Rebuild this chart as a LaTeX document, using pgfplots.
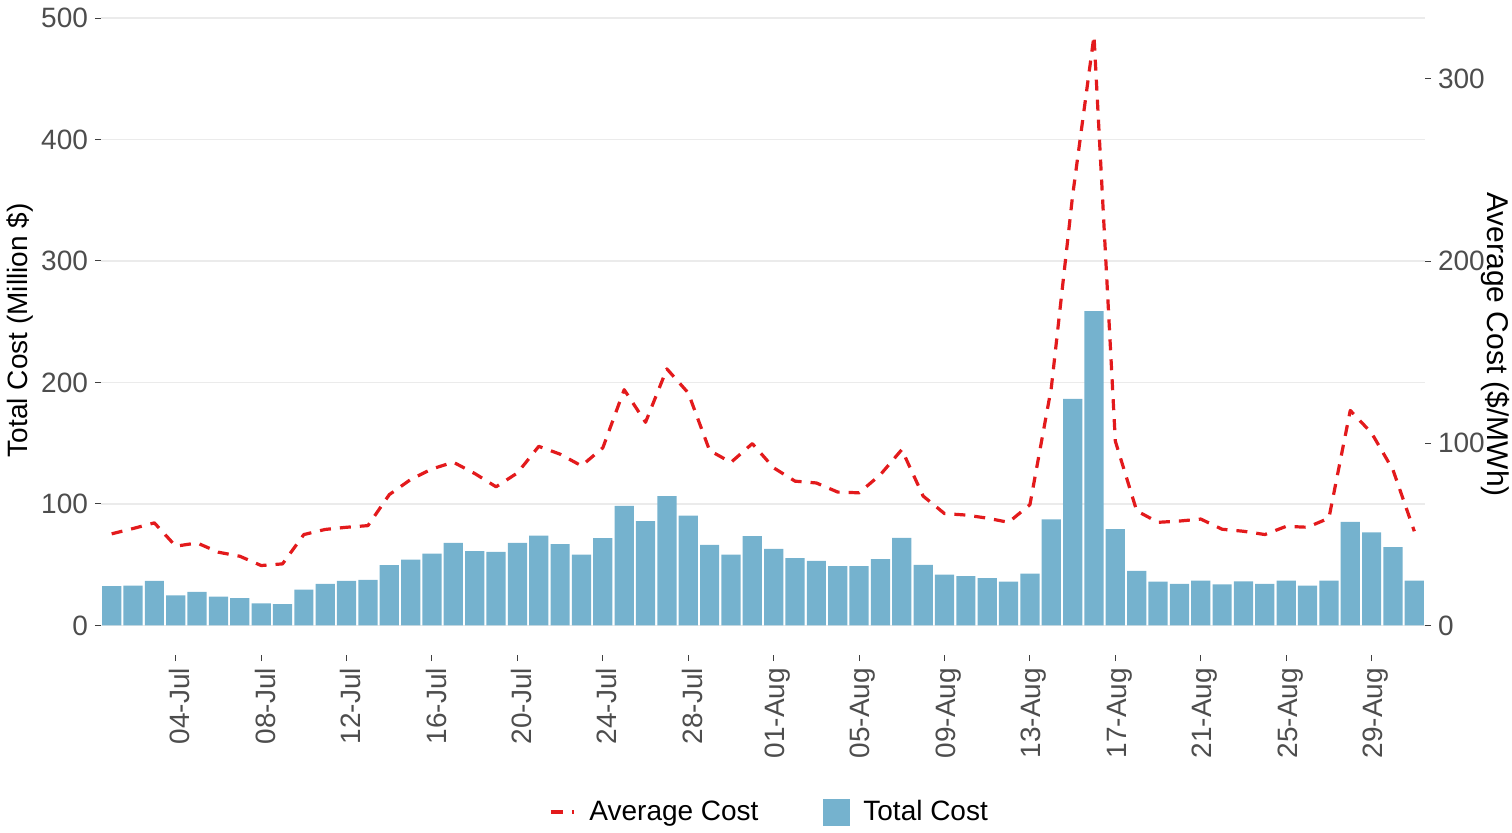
\documentclass[border=0pt]{standalone}
\usepackage{pgfplots}
\pgfplotsset{compat=1.18}
\usepackage{pgfplotstable}
\usepackage{fontspec}
\setmainfont{Liberation Sans}

\definecolor{barblue}{RGB}{117,178,206}
\definecolor{avgred}{RGB}{227,26,28}
\definecolor{gridgray}{RGB}{235,235,235}
\definecolor{ticklab}{RGB}{77,77,77}

% day 1 = 01-Jul ... day 62 = 31-Aug
\pgfplotstableread{
day total avg
1  32.3  50.3
2  32.9  53.2
3  36.7  56.3
4  24.7  43.5
5  27.7  45.3
6  23.8  40.2
7  22.5  38.0
8  18.1  32.9
9  17.5  33.8
10 29.6  49.9
11 34.3  52.7
12 36.7  53.9
13 37.5  54.8
14 49.6  71.8
15 54.3  80.1
16 59.2  85.9
17 68.0  89.6
18 61.1  83.4
19 60.6  76.1
20 68.0  83.7
21 74.0  98.3
22 66.9  94.0
23 58.4  87.6
24 71.8  97.5
25 98.4  129.4
26 85.8  111.5
27 106.4 140.8
28 90.5  127.6
29 66.3  96.0
30 58.4  89.5
31 73.5  99.8
32 63.0  86.5
33 55.4  79.2
34 53.2  78.2
35 48.8  73.2
36 48.8  72.8
37 54.6  82.8
38 72.1  96.5
39 49.9  71.0
40 41.9  61.4
41 40.6  60.6
42 39.0  58.9
43 36.0  56.6
44 42.7  66.3
45 87.4  130.3
46 186.5 236.0
47 258.7 323.6
48 79.3  101.1
49 45.0  62.9
50 36.0  56.6
51 34.3  57.3
52 37.0  58.4
53 33.9  52.8
54 36.3  51.7
55 34.3  49.9
56 37.0  54.4
57 32.9  53.9
58 37.0  58.9
59 85.3  118.0
60 76.6  105.6
61 64.5  85.4
62 37.0  51.7
}\costdata

\begin{document}
\begin{tikzpicture}[font=\fontsize{14}{17}\selectfont]
\useasboundingbox (-50.5pt,-88.5pt) rectangle (705.5pt,327.5pt);
\begin{axis}[
  at={(0pt,0pt)}, anchor=south west,
  scale only axis, width=662pt, height=324.75pt,
  xmin=0.5, xmax=62.5, ymin=-24.3, ymax=510.3,
  axis x line*=bottom, axis y line*=left,
  axis line style={draw=none},
  tick align=outside, major tick length=3pt,
  tick style={draw=black!75, line width=0.5pt},
  xtick={4,8,...,60},
  xticklabels={04-Jul,08-Jul,12-Jul,16-Jul,20-Jul,24-Jul,28-Jul,01-Aug,05-Aug,09-Aug,13-Aug,17-Aug,21-Aug,25-Aug,29-Aug},
  xticklabel style={rotate=90, anchor=east, text=ticklab, yshift=-2pt},
  ytick={0,100,...,500},
  yticklabel style={text=ticklab},
  ymajorgrids, grid style={gridgray, line width=0.8pt},
  ylabel={Total Cost (Million \$)},
  ylabel style={at={(axis description cs:-0.0612,0.5)}, anchor=center},
  /pgf/number format/assume math mode=true,
]
\addplot[ybar, bar width=0.9, fill=barblue, draw=none] table[x=day, y=total] {\costdata};
\end{axis}
\begin{axis}[
  at={(0pt,0pt)}, anchor=south west,
  scale only axis, width=662pt, height=324.75pt,
  xmin=0.5, xmax=62.5, ymin=-16.2, ymax=340.2,
  hide x axis,
  axis y line*=right, axis line style={draw=none},
  tick align=outside, major tick length=3pt,
  tick style={draw=black!75, line width=0.5pt},
  ytick={0,100,200,300},
  yticklabel style={text=ticklab},
  ylabel={Average Cost (\$/MWh)},
  ylabel style={at={(axis description cs:1.0535,0.478)}, anchor=center, rotate=180,
    font=\fontsize{15}{18}\selectfont},
  /pgf/number format/assume math mode=true,
  legend style={at={(0.5057,-0.2417)}, anchor=center, draw=none, fill=none,
    legend columns=2,
    /tikz/every odd column/.append style={column sep=5pt},
    /tikz/every even column/.append style={column sep=30pt}},
]
\addplot[avgred, line width=1.6pt, line join=round, dash pattern=on 5.5pt off 4.5pt,
  legend image code/.code={\draw[avgred, line width=1.6pt, dash pattern=on 6pt off 4.5pt] (0pt,0pt) -- (11.5pt,0pt);}]
  table[x=day, y=avg] {\costdata};
\addlegendentry{Average Cost}
\addlegendimage{legend image code/.code={\fill[barblue] (0pt,-6.5pt) rectangle (13pt,6.5pt);}}
\addlegendentry{Total Cost}
\end{axis}
\end{tikzpicture}
\end{document}
